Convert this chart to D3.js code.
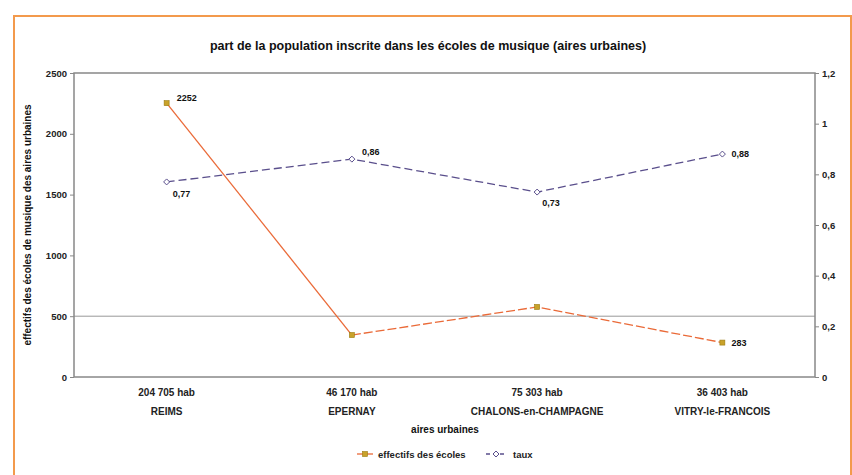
<!DOCTYPE html>
<html><head><meta charset="utf-8">
<script src="https://cdn.jsdelivr.net/npm/d3@7"></script>
<style>body{margin:0;background:#fff}svg{display:block;font-family:"Liberation Sans",Arial,sans-serif}</style>
</head><body><svg id="c" width="852" height="475"></svg>
<script>
const categories = ["REIMS","EPERNAY","CHALONS-en-CHAMPAGNE","VITRY-le-FRANCOIS"];
const populations = ["204 705 hab","46 170 hab","75 303 hab","36 403 hab"];
const effectifs = [2252, 345, 576, 283];
const effectifsLabels = ["2252", null, null, "283"];
const taux = [0.77, 0.86, 0.73, 0.88];
const tauxLabels = ["0,77","0,86","0,73","0,88"];
const leftTicks = [0,500,1000,1500,2000,2500];
const rightTicks = [0,0.2,0.4,0.6,0.8,1,1.2];
const rightTickLabels = ["0","0,2","0,4","0,6","0,8","1","1,2"];
const title = "part de la population inscrite dans les écoles de musique (aires urbaines)";
const yTitle = "effectifs des écoles de musique des aires urbaines";
const xTitle = "aires urbaines";
const seriesNames = ["effectifs des écoles","taux"];

const svg = d3.select("#c");
const L=74, R=815, T=73, B=377;
const orange="#ea6a38", purple="#5a4f8c";
const FF = "Liberation Sans, Arial, sans-serif";

svg.append("rect").attr("x",14).attr("y",16).attr("width",837).attr("height",480)
  .attr("fill","none").attr("stroke","#f39a4c").attr("stroke-width",2);

const x = d3.scaleBand().domain(categories).range([L,R]).padding(0);
const yL = d3.scaleLinear().domain([0,2500]).range([B,T]);
const yR = d3.scaleLinear().domain([0,1.2]).range([B,T]);
const cx = c => x(c)+x.bandwidth()/2;

svg.append("text").attr("x",428).attr("y",50).attr("text-anchor","middle")
  .attr("font-size",12.5).attr("font-weight","bold").attr("fill","#111").text(title);

// gridline at 500
svg.append("line").attr("x1",L).attr("x2",R).attr("y1",yL(500)).attr("y2",yL(500))
  .attr("stroke","#999").attr("stroke-width",1);

svg.append("rect").attr("x",L).attr("y",T).attr("width",R-L).attr("height",B-T)
  .attr("fill","none").attr("stroke","#888").attr("stroke-width",1.5);

// left axis
const gl = svg.append("g").attr("transform",`translate(${L},0)`)
  .call(d3.axisLeft(yL).tickValues(leftTicks).tickSize(4).tickFormat(d=>String(d)));
gl.select(".domain").remove();
gl.selectAll("line").attr("stroke","#888");
gl.selectAll("text").attr("font-size",9.5).attr("font-weight","bold").attr("fill","#222").attr("font-family",FF);

// right axis
const gr = svg.append("g").attr("transform",`translate(${R},0)`)
  .call(d3.axisRight(yR).tickValues(rightTicks).tickSize(4).tickFormat((d,i)=>rightTickLabels[i]));
gr.select(".domain").remove();
gr.selectAll("line").attr("stroke","#888");
gr.selectAll("text").attr("font-size",9.5).attr("font-weight","bold").attr("fill","#222").attr("font-family",FF);

// y title
svg.append("text").attr("transform",`translate(31,${(T+B)/2}) rotate(-90)`)
  .attr("text-anchor","middle").attr("font-size",10).attr("font-weight","bold").attr("fill","#111").text(yTitle);

// x labels
categories.forEach((c,i)=>{
  svg.append("text").attr("x",cx(c)).attr("y",396).attr("text-anchor","middle")
    .attr("font-size",10).attr("font-weight","bold").attr("fill","#222").text(populations[i]);
  svg.append("text").attr("x",cx(c)).attr("y",415).attr("text-anchor","middle")
    .attr("font-size",10).attr("font-weight","bold").attr("fill","#222").text(c);
});
svg.append("text").attr("x",445).attr("y",433).attr("text-anchor","middle")
  .attr("font-size",10).attr("font-weight","bold").attr("fill","#111").text(xTitle);

// effectifs line: first (steep) segment solid, remainder dashed
const lineE = d3.line().x(d=>cx(d.c)).y(d=>yL(d.v));
const ptsE = effectifs.map((v,i)=>({c:categories[i],v}));
svg.append("path").attr("d",lineE(ptsE.slice(0,2))).attr("fill","none")
  .attr("stroke",orange).attr("stroke-width",1.3);
svg.append("path").attr("d",lineE(ptsE.slice(1))).attr("fill","none")
  .attr("stroke",orange).attr("stroke-width",1.3).attr("stroke-dasharray","9,3");
// taux line
const lineT = d3.line().x((d,i)=>cx(categories[i])).y(d=>yR(d));
svg.append("path").attr("d",lineT(taux)).attr("fill","none")
  .attr("stroke",purple).attr("stroke-width",1.3).attr("stroke-dasharray","8,4");

function sq(g,px,py){ g.append("rect").attr("x",px-2.5).attr("y",py-2.5).attr("width",5).attr("height",5)
  .attr("fill","#c9a22a").attr("stroke","#9a7a10").attr("stroke-width",0.6); }
function dia(g,px,py){ g.append("path").attr("d",`M${px},${py-3}L${px+3},${py}L${px},${py+3}L${px-3},${py}Z`)
  .attr("fill","#fff").attr("stroke",purple).attr("stroke-width",1); }

effectifs.forEach((v,i)=>sq(svg,cx(categories[i]),yL(v)));
taux.forEach((v,i)=>dia(svg,cx(categories[i]),yR(v)));

// data labels
const lblE = [[10,-2],[0,0],[0,0],[9,3]];
effectifs.forEach((v,i)=>{ if(!effectifsLabels[i]) return;
  svg.append("text").attr("x",cx(categories[i])+lblE[i][0]).attr("y",yL(v)+lblE[i][1])
    .attr("font-size",9).attr("font-weight","bold").attr("fill","#111").text(effectifsLabels[i]); });
const lblT = [[6,15],[10,-4],[5,14],[9,3]];
taux.forEach((v,i)=>{
  svg.append("text").attr("x",cx(categories[i])+lblT[i][0]).attr("y",yR(v)+lblT[i][1])
    .attr("font-size",9).attr("font-weight","bold").attr("fill","#111").text(tauxLabels[i]); });

// legend
const ly=454;
svg.append("line").attr("x1",357).attr("x2",373).attr("y1",ly).attr("y2",ly).attr("stroke",orange).attr("stroke-width",1.3);
sq(svg,365,ly);
svg.append("text").attr("x",378).attr("y",ly+3.5).attr("font-size",9.5).attr("font-weight","bold").attr("fill","#222").text(seriesNames[0]);
svg.append("line").attr("x1",486).attr("x2",506).attr("y1",ly).attr("y2",ly).attr("stroke",purple).attr("stroke-width",1.3).attr("stroke-dasharray","4,3");
dia(svg,496,ly);
svg.append("text").attr("x",513).attr("y",ly+3.5).attr("font-size",9.5).attr("font-weight","bold").attr("fill","#222").text(seriesNames[1]);
</script></body></html>
